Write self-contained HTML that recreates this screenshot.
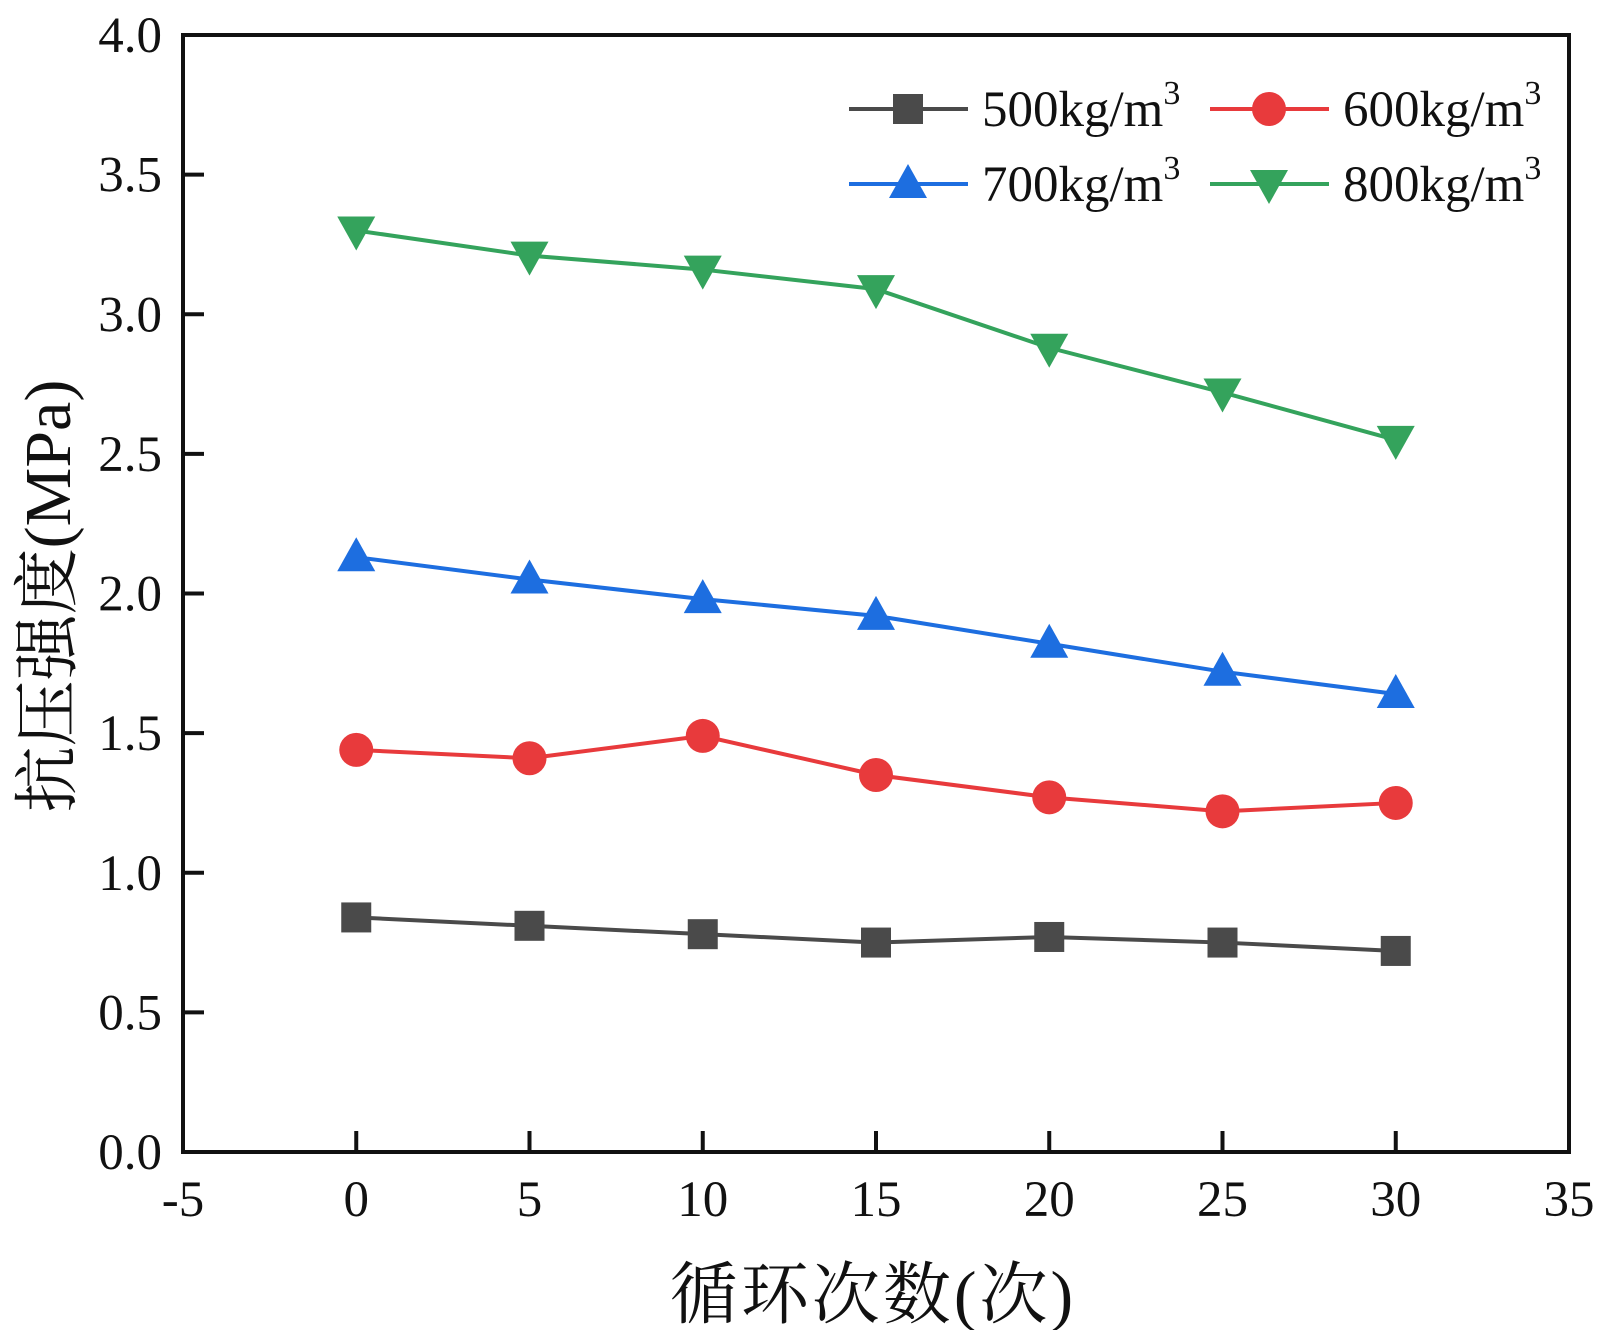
<!DOCTYPE html>
<html><head><meta charset="utf-8"><style>
html,body{margin:0;padding:0;background:#fff;}
svg{display:block;}
text{font-family:"Liberation Serif","Noto Serif CJK SC",serif;fill:#111;}
</style></head><body>
<svg id="chart" width="1600" height="1330" viewBox="0 0 1600 1330">
<g id="plot"></g>
</svg>
<script>
const categories=[0,5,10,15,20,25,30];
const s500=[0.84,0.81,0.78,0.75,0.77,0.75,0.72];
const s600=[1.44,1.41,1.49,1.35,1.27,1.22,1.25];
const s700=[2.13,2.05,1.98,1.92,1.82,1.72,1.64];
const s800=[3.30,3.21,3.16,3.09,2.88,2.72,2.55];
const xTickLabels=["-5","0","5","10","15","20","25","30","35"];
const yTickLabels=["0.0","0.5","1.0","1.5","2.0","2.5","3.0","3.5","4.0"];

const L=183,R=1569,T=35,B=1152;
const xMin=-5,xMax=35,yMin=0,yMax=4;
const X=v=>L+(v-xMin)/(xMax-xMin)*(R-L);
const Y=v=>B-(v-yMin)/(yMax-yMin)*(B-T);
const NS="http://www.w3.org/2000/svg";
const g=document.getElementById('plot');
function mk(tag,attrs,parent){const e=document.createElementNS(NS,tag);for(const k in attrs)e.setAttribute(k,attrs[k]);(parent||g).appendChild(e);return e;}

const frame=mk('rect',{x:L,y:T,width:R-L,height:B-T,fill:'none',stroke:'#111','stroke-width':4});



xTickLabels.forEach(t=>{
  const v=parseFloat(t),x=X(v);
  if(v>=0&&v<=30){
    const tk=mk('line',{x1:x,x2:x,y1:B,y2:B-21,stroke:'#111','stroke-width':4});
    
    
  }
  const tx=mk('text',{x:x,y:1216,'text-anchor':'middle','font-size':51});
  tx.textContent=t;
  
  
});
yTickLabels.forEach(t=>{
  const v=parseFloat(t),y=Y(v);
  const tk=mk('line',{x1:L,x2:L+21,y1:y,y2:y,stroke:'#111','stroke-width':4});
  
  
  const tx=mk('text',{x:162,y:y+17,'text-anchor':'end','font-size':51});
  tx.textContent=t;
  
  
});

const xt=mk('text',{x:873,y:1318,'text-anchor':'middle','font-size':68,'letter-spacing':3});
xt.textContent='循环次数(次)';


const yt=mk('text',{x:0,y:0,'text-anchor':'middle','font-size':66,transform:'translate(70,596) rotate(-90)'});
yt.textContent='抗压强度(MPa)';



function marker(type,cx,cy,color,parent){
  let e;
  if(type==='square')e=mk('rect',{x:cx-15,y:cy-15,width:30,height:30,fill:color},parent);
  else if(type==='circle')e=mk('circle',{cx:cx,cy:cy,r:17,fill:color},parent);
  else if(type==='up')e=mk('polygon',{points:`${cx},${cy-20} ${cx-19},${cy+14} ${cx+19},${cy+14}`,fill:color},parent);
  else e=mk('polygon',{points:`${cx},${cy+20} ${cx-19},${cy-14} ${cx+19},${cy-14}`,fill:color},parent);
  return e;
}
const series=[
  {name:'500',vals:s500,color:'#4a4a4a',m:'square'},
  {name:'600',vals:s600,color:'#e83a3c',m:'circle'},
  {name:'700',vals:s700,color:'#1d6ee0',m:'up'},
  {name:'800',vals:s800,color:'#34a35c',m:'down'}
];
series.forEach(s=>{
  const sg=mk('g',{});
  
  
  const pts=categories.map((c,i)=>X(c)+','+Y(s.vals[i])).join(' ');
  const pl=mk('polyline',{points:pts,fill:'none',stroke:s.color,'stroke-width':4},sg);
  
  
  categories.forEach((c,i)=>{
    const m=marker(s.m,X(c),Y(s.vals[i]),s.color,sg);
    
    
  });
});

const legPos=[[849,109],[1210,109],[849,184],[1210,184]];
series.forEach((s,i)=>{
  const [lx,ly]=legPos[i];
  const lg=mk('g',{});
  
  
  mk('line',{x1:lx,x2:lx+119,y1:ly,y2:ly,stroke:s.color,'stroke-width':4},lg);
  marker(s.m,lx+59,ly,s.color,lg);
  const t=mk('text',{x:lx+133,y:ly+17,'font-size':51},lg);
  t.innerHTML=s.name+'kg/m<tspan dy="-22" font-size="34">3</tspan>';
});
</script>
</body></html>
